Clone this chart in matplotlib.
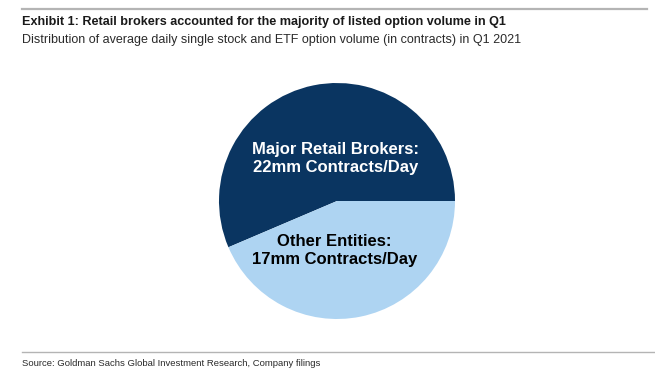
import matplotlib.pyplot as plt
from matplotlib.lines import Line2D

# data
labels = ["Major Retail Brokers:\n22mm Contracts/Day", "Other Entities:\n17mm Contracts/Day"]
values = [22, 17]
colors = ['#0a3561', '#aed4f2']
text_colors = ['white', 'black']

plt.rcParams['font.family'] = ['Liberation Sans', 'DejaVu Sans']

W, H = 655, 380
fig = plt.figure(figsize=(W / 100, H / 100), dpi=100)

# pie axes, center ~ (337, 201) px, radius 118 px
cx, cy, r = 337, 201, 118
ax = fig.add_axes([(cx - r) / W, (H - cy - r) / H, 2 * r / W, 2 * r / H])
ax.pie(values, colors=colors, startangle=0, counterclock=True, radius=1,
       wedgeprops=dict(linewidth=0))
ax.set_xlim(-1, 1)
ax.set_ylim(-1, 1)
ax.set_aspect('equal')
ax.axis('off')

# slice labels
label_pos = [(-0.01, 0.36), (-0.02, -0.42)]
for lab, (x, y), c in zip(labels, label_pos, text_colors):
    ax.text(x, y, lab, ha='center', va='center', color=c, fontsize=12,
            fontweight='bold', linespacing=1.2)

# rules
fig.add_artist(Line2D([22 / W, 647 / W], [1 - 8.5 / H, 1 - 8.5 / H], color='#b4b4b4', lw=1.6))
fig.add_artist(Line2D([22 / W, 1.0], [1 - 352 / H, 1 - 352 / H], color='#b4b4b4', lw=1.0))

# titles
fig.text(22 / W, 1 - 22.5 / H, "Exhibit 1: Retail brokers accounted for the majority of listed option volume in Q1",
         ha='left', va='center', fontsize=9.1, fontweight='bold', color='#1a1a1a')
fig.text(22 / W, 1 - 40.5 / H, "Distribution of average daily single stock and ETF option volume (in contracts) in Q1 2021",
         ha='left', va='center', fontsize=9.0, color='#2a2a2a')
fig.text(22 / W, 1 - 364 / H, "Source: Goldman Sachs Global Investment Research, Company filings",
         ha='left', va='center', fontsize=6.8, color='#2a2a2a')

fig.savefig('out.png', dpi=100)
